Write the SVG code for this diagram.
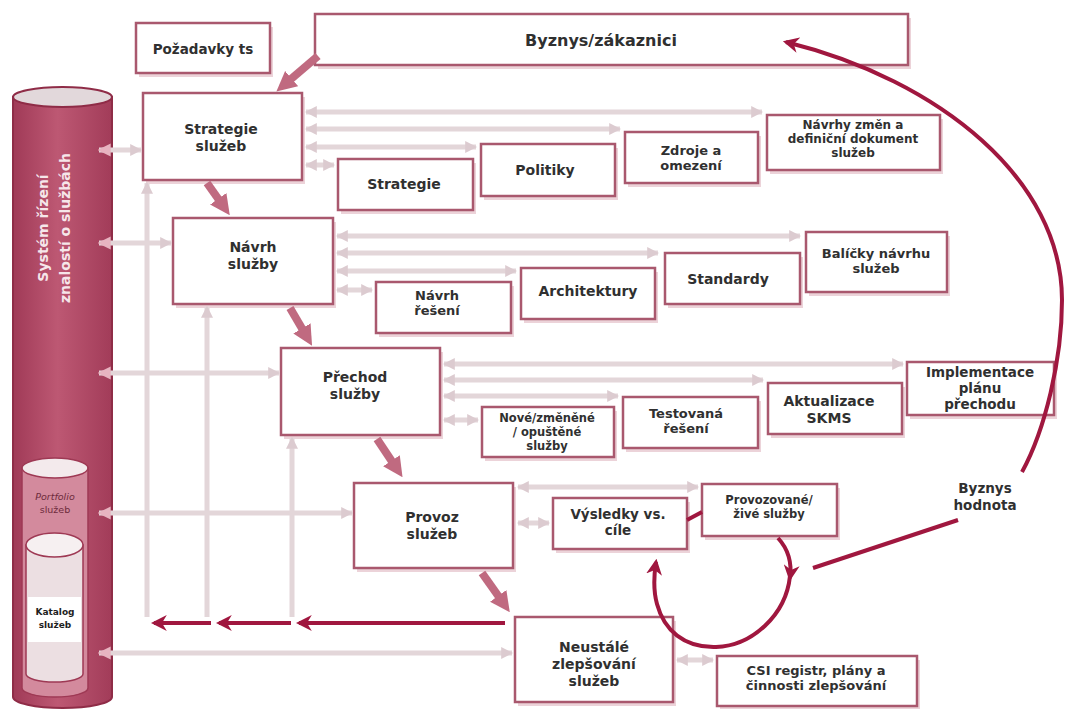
<svg xmlns="http://www.w3.org/2000/svg" width="1070" height="709" viewBox="0 0 1070 709">
<defs>
<style>
.sh{fill:#ecd3d9}
.bx{fill:#ffffff;stroke:#a9586e;stroke-width:2.5}
.t{font-family:"DejaVu Sans","Open Sans",sans-serif;font-weight:700;fill:#303030;text-anchor:middle}
.s14{font-size:14px}
.s13{font-size:13px}
.s12{font-size:12px}
.s11{font-size:11.5px}
.ll{stroke:#e3d6d9;stroke-width:5;fill:none}
.sa{stroke:#c06a80;stroke-width:8;fill:none}
.dr{stroke:#a0173f;stroke-width:4;fill:none}
</style>
<marker id="la" viewBox="0 0 10 10" refX="9" refY="5" markerWidth="12" markerHeight="14" markerUnits="userSpaceOnUse" orient="auto-start-reverse"><path d="M0,0 L10,5 L0,10 Z" fill="#dccbd0"/></marker>
<marker id="lp" viewBox="0 0 10 10" refX="9" refY="5" markerWidth="13" markerHeight="15" markerUnits="userSpaceOnUse" orient="auto-start-reverse"><path d="M0,0 L10,5 L0,10 Z" fill="#e7b3c0"/></marker>
<marker id="sm" viewBox="0 0 10 10" refX="5" refY="5" markerWidth="20" markerHeight="22" markerUnits="userSpaceOnUse" orient="auto"><path d="M0,0 L10,5 L0,10 Z" fill="#c06a80"/></marker>
<marker id="dm" viewBox="0 0 10 10" refX="8" refY="5" markerWidth="16" markerHeight="16" markerUnits="userSpaceOnUse" orient="auto"><path d="M0,0 L10,5 L0,10 L3,5 Z" fill="#a0173f"/></marker>
<linearGradient id="cyl" x1="0" y1="0" x2="1" y2="0">
<stop offset="0" stop-color="#a03a57"/>
<stop offset="0.45" stop-color="#bd5873"/>
<stop offset="1" stop-color="#a23c59"/>
</linearGradient>
</defs>
<rect width="1070" height="709" fill="#ffffff"/>

<!-- Knowledge management cylinder -->
<g id="skms">
<path d="M13,97 L13,697 A49.5,11 0 0 0 112,697 L112,97 Z" fill="url(#cyl)" stroke="#8f2c47" stroke-width="2"/>
<ellipse cx="62.5" cy="97" rx="49.5" ry="10" fill="#e2d8db" stroke="#8f2c47" stroke-width="2"/>
<text class="t" font-size="14" style="fill:#f6e6ea" transform="translate(48,228) rotate(-90)">Systém řízení</text>
<text class="t" font-size="14" style="fill:#f6e6ea" transform="translate(70,228) rotate(-90)">znalostí o službách</text>
</g>
<g id="portfolio">
<path d="M22,468 L22,688 A33,9 0 0 0 88,688 L88,468 Z" fill="#d38a9d" stroke="#9e3954" stroke-width="1.5"/>
<ellipse cx="55" cy="468" rx="33" ry="10" fill="#f3eaec" stroke="#9e3954" stroke-width="1.5"/>
<text class="t" font-size="9.5" style="fill:#6e2a3c;font-weight:400;font-style:italic" x="55" y="500">Portfolio</text>
<text class="t" font-size="9.5" style="fill:#6e2a3c;font-weight:400" x="55" y="513">služeb</text>
</g>
<g id="katalog">
<path d="M26,545 L26,674 A28.5,8 0 0 0 83,674 L83,545 Z" fill="#ecdfe2" stroke="#9e3954" stroke-width="1.5"/>
<ellipse cx="54.5" cy="545" rx="28.5" ry="12" fill="#f6f0f1" stroke="#9e3954" stroke-width="1.5"/>
<rect x="28" y="597" width="53" height="45" fill="#ffffff"/>
<text class="t" font-size="9" style="fill:#1e1e1e" x="55" y="615">Katalog</text>
<text class="t" font-size="9" style="fill:#1e1e1e" x="55" y="628">služeb</text>
</g>

<!-- nodes -->
<g id="byznys"><rect class="sh" x="318" y="18" width="593" height="51"/><rect class="bx" x="315" y="14" width="593" height="51"/><text class="t" font-size="16" x="601" y="46">Byznys/zákaznici</text></g>
<g id="pozadavky"><rect class="sh" x="139" y="27" width="134" height="50"/><rect class="bx" x="136" y="23" width="134" height="50"/><text class="t" font-size="13.5" x="203" y="54">Požadavky  ts</text></g>

<g id="strategie-sluzeb"><rect class="sh" x="146" y="97" width="159" height="87"/><rect class="bx" x="143" y="93" width="159" height="87"/><text class="t s14" x="221" y="134">Strategie</text><text class="t s14" x="221" y="151">služeb</text></g>
<g id="strategie"><rect class="sh" x="341" y="163" width="135" height="51"/><rect class="bx" x="338" y="159" width="135" height="51"/><text class="t s14" x="404" y="189">Strategie</text></g>
<g id="politiky"><rect class="sh" x="484" y="148" width="134" height="52"/><rect class="bx" x="481" y="144" width="134" height="52"/><text class="t s14" x="545" y="175">Politiky</text></g>
<g id="zdroje"><rect class="sh" x="628" y="136" width="133" height="51"/><rect class="bx" x="625" y="132" width="133" height="51"/><text class="t s13" x="691" y="155">Zdroje a</text><text class="t s13" x="691" y="170">omezení</text></g>
<g id="navrhy-zmen"><rect class="sh" x="770" y="119" width="173" height="55"/><rect class="bx" x="767" y="115" width="173" height="55"/><text class="t s12" x="853" y="129">Návrhy změn a</text><text class="t s12" x="853" y="143">definiční dokument</text><text class="t s12" x="853" y="157">služeb</text></g>

<g id="navrh-sluzby"><rect class="sh" x="176" y="222" width="160" height="86"/><rect class="bx" x="173" y="218" width="160" height="86"/><text class="t s14" x="253" y="252">Návrh</text><text class="t s14" x="253" y="269">služby</text></g>
<g id="navrh-reseni"><rect class="sh" x="379" y="286" width="135" height="51"/><rect class="bx" x="376" y="282" width="135" height="51"/><text class="t s13" x="437" y="300">Návrh</text><text class="t s13" x="437" y="315">řešení</text></g>
<g id="architektury"><rect class="sh" x="524" y="272" width="134" height="51"/><rect class="bx" x="521" y="268" width="134" height="51"/><text class="t s14" x="588" y="296">Architektury</text></g>
<g id="standardy"><rect class="sh" x="668" y="257" width="135" height="51"/><rect class="bx" x="665" y="253" width="135" height="51"/><text class="t s14" x="728" y="284">Standardy</text></g>
<g id="balicky"><rect class="sh" x="809" y="236" width="141" height="60"/><rect class="bx" x="806" y="232" width="141" height="60"/><text class="t s13" x="876" y="258">Balíčky  návrhu</text><text class="t s13" x="876" y="273">služeb</text></g>

<g id="prechod-sluzby"><rect class="sh" x="284" y="352" width="159" height="87"/><rect class="bx" x="281" y="348" width="159" height="87"/><text class="t s14" x="355" y="382">Přechod</text><text class="t s14" x="355" y="399">služby</text></g>
<g id="nove-sluzby"><rect class="sh" x="485" y="411" width="132" height="50"/><rect class="bx" x="482" y="407" width="132" height="50"/><text class="t s11" x="547" y="422">Nové/změněné</text><text class="t s11" x="547" y="436">/ opuštěné</text><text class="t s11" x="547" y="450">služby</text></g>
<g id="testovana"><rect class="sh" x="626" y="401" width="135" height="51"/><rect class="bx" x="623" y="397" width="135" height="51"/><text class="t s13" x="686" y="418">Testovaná</text><text class="t s13" x="686" y="433">řešení</text></g>
<g id="aktualizace"><rect class="sh" x="771" y="387" width="134" height="51"/><rect class="bx" x="768" y="383" width="134" height="51"/><text class="t s14" x="829" y="406">Aktualizace</text><text class="t s14" x="829" y="423">SKMS</text></g>
<g id="implementace"><rect class="sh" x="910" y="366" width="147" height="53"/><rect class="bx" x="907" y="362" width="147" height="53"/><text class="t" font-size="13.5" x="980" y="377">Implementace</text><text class="t" font-size="13.5" x="980" y="393">plánu</text><text class="t" font-size="13.5" x="980" y="409">přechodu</text></g>

<g id="provoz-sluzeb"><rect class="sh" x="357" y="487" width="159" height="85"/><rect class="bx" x="354" y="483" width="159" height="85"/><text class="t s14" x="432" y="522">Provoz</text><text class="t s14" x="432" y="539">služeb</text></g>
<g id="vysledky"><rect class="sh" x="556" y="502" width="134" height="51"/><rect class="bx" x="553" y="498" width="134" height="51"/><text class="t" font-size="13.5" x="618" y="519">Výsledky vs.</text><text class="t" font-size="13.5" x="618" y="535">cíle</text></g>
<g id="provozovane"><rect class="sh" x="705" y="488" width="135" height="52"/><rect class="bx" x="702" y="484" width="135" height="52"/><text class="t s11" x="769" y="504">Provozované/</text><text class="t s11" x="769" y="518">živé služby</text></g>

<g id="neustale"><rect class="sh" x="518" y="621" width="158" height="85"/><rect class="bx" x="515" y="617" width="158" height="85"/><text class="t s14" x="594" y="652">Neustálé</text><text class="t s14" x="594" y="669">zlepšování</text><text class="t s14" x="594" y="686">služeb</text></g>
<g id="csi"><rect class="sh" x="720" y="660" width="200" height="50"/><rect class="bx" x="717" y="656" width="200" height="50"/><text class="t s13" x="816" y="675">CSI registr, plány a</text><text class="t s13" x="816" y="690">činnosti zlepšování</text></g>

<g id="byznys-hodnota"><text class="t" font-size="13.5" x="985" y="493">Byznys</text><text class="t" font-size="13.5" x="985" y="510">hodnota</text></g>

<!-- connectors -->
<g id="connectors">
<path class="ll" d="M99,150 L141,150" marker-start="url(#lp)" marker-end="url(#la)"/>
<path class="ll" d="M99,243 L171,243" marker-start="url(#lp)" marker-end="url(#la)"/>
<path class="ll" d="M99,373 L279,373" marker-start="url(#lp)" marker-end="url(#la)"/>
<path class="ll" d="M99,513 L352,513" marker-start="url(#lp)" marker-end="url(#la)"/>
<path class="ll" d="M99,653 L512,653" marker-start="url(#lp)" marker-end="url(#la)"/>
<path class="ll" d="M147,617 L147,183" marker-end="url(#la)"/>
<path class="ll" d="M207,617 L207,307" marker-end="url(#la)"/>
<path class="ll" d="M292,617 L292,438" marker-end="url(#la)"/>
<path class="ll" d="M306,112 L762,112" marker-start="url(#la)" marker-end="url(#la)"/>
<path class="ll" d="M306,129 L620,129" marker-start="url(#la)" marker-end="url(#la)"/>
<path class="ll" d="M306,147 L476,147" marker-start="url(#la)" marker-end="url(#la)"/>
<path class="ll" d="M306,165 L334,165" marker-start="url(#la)" marker-end="url(#la)"/>
<path class="ll" d="M337,236 L800,236" marker-start="url(#la)" marker-end="url(#la)"/>
<path class="ll" d="M337,253 L658,253" marker-start="url(#la)" marker-end="url(#la)"/>
<path class="ll" d="M337,271 L516,271" marker-start="url(#la)" marker-end="url(#la)"/>
<path class="ll" d="M337,290 L372,290" marker-start="url(#la)" marker-end="url(#la)"/>
<path class="ll" d="M444,364 L903,364" marker-start="url(#la)" marker-end="url(#la)"/>
<path class="ll" d="M444,380 L763,380" marker-start="url(#la)" marker-end="url(#la)"/>
<path class="ll" d="M444,396 L618,396" marker-start="url(#la)" marker-end="url(#la)"/>
<path class="ll" d="M444,420 L478,420" marker-start="url(#la)" marker-end="url(#la)"/>
<path class="ll" d="M518,487 L698,487" marker-start="url(#la)" marker-end="url(#la)"/>
<path class="ll" d="M518,523 L549,523" marker-start="url(#la)" marker-end="url(#la)"/>
<path class="ll" d="M677,660 L713,660" marker-start="url(#la)" marker-end="url(#la)"/>
<path class="sa" d="M318,56 L284,85" marker-end="url(#sm)"/>
<path class="sa" d="M207,183 L224,207" marker-end="url(#sm)"/>
<path class="sa" d="M290,308 L307,337" marker-end="url(#sm)"/>
<path class="sa" d="M377,439 L397,469" marker-end="url(#sm)"/>
<path class="sa" d="M482,573 L504,604" marker-end="url(#sm)"/>
<path class="dr" d="M505,623 L299,623" marker-end="url(#dm)"/>
<path class="dr" d="M291,623 L219,623" marker-end="url(#dm)"/>
<path class="dr" d="M211,623 L154,623" marker-end="url(#dm)"/>
<path class="dr" d="M813,568 L958,520"/>
<path class="dr" d="M1022,472 C1045,430 1062,360 1062,300 C1062,180 940,80 786,42" marker-end="url(#dm)"/>
<path class="dr" d="M687,520 L702,512"/>
<path class="dr" d="M778,538 C789,550 792,563 790,578" marker-end="url(#dm)"/>
<path class="dr" d="M790,576 C786,615 752,646 716,647 C684,648 664,630 657,604 C653,590 654,575 656,562" marker-end="url(#dm)"/>
</g>
</svg>
